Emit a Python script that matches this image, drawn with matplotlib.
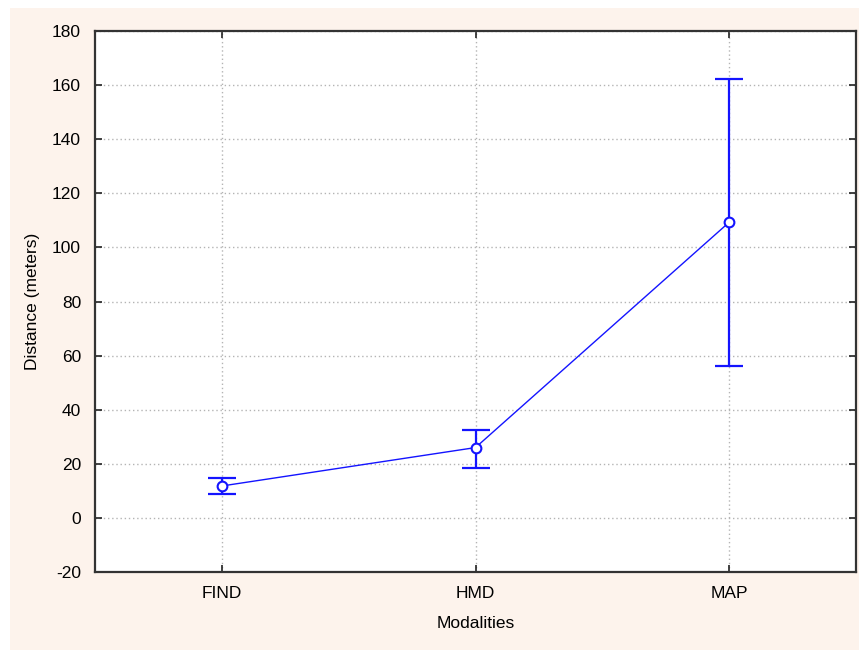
import matplotlib

matplotlib.use("Agg")
import matplotlib.pyplot as plt
from matplotlib.patches import Rectangle

plt.rcParams["font.family"] = ["Liberation Sans", "DejaVu Sans"]
plt.rcParams["axes.unicode_minus"] = False

# 各組平均與誤差範圍
modalities = ["FIND", "HMD", "MAP"]
mean_dist = [11.8, 26.0, 109.3]
lower_dist = [8.8, 18.4, 56.2]
upper_dist = [14.6, 32.4, 162.4]
y_ticks = [-20, 0, 20, 40, 60, 80, 100, 120, 140, 160, 180]

BLUE = "#1414ff"
PEACH = "#fdf3ec"

fig = plt.figure(figsize=(8.59, 6.5), dpi=100, facecolor="white")
# 背景的淡橘色底
fig.patches.append(Rectangle((10 / 859, 0), 1 - 10 / 859, 1 - 8 / 650,
                             transform=fig.transFigure, facecolor=PEACH,
                             edgecolor="none", zorder=-10))

ax = fig.add_axes([95 / 859, 1 - 572 / 650, (856 - 95) / 859, (572 - 31) / 650])
ax.set_facecolor("white")

x = list(range(len(modalities)))
yerr = [[m - lo for m, lo in zip(mean_dist, lower_dist)],
        [hi - m for m, hi in zip(mean_dist, upper_dist)]]

ax.plot(x, mean_dist, color=BLUE, linewidth=1.0, zorder=3)
ax.errorbar(x, mean_dist, yerr=yerr, fmt="none", ecolor=BLUE,
            elinewidth=1.6, capsize=10, capthick=1.6, zorder=3)
ax.plot(x, mean_dist, linestyle="none", marker="o", markersize=7,
        markerfacecolor="white", markeredgecolor=BLUE, markeredgewidth=1.5,
        zorder=4)

ax.set_xlim(-0.5, 2.5)
ax.set_ylim(-20, 180)
ax.set_xticks(x)
ax.set_xticklabels(modalities)
ax.set_yticks(y_ticks)

ax.grid(True, color="#b4b4b4", linestyle=(0, (1, 2)), linewidth=1.0)
ax.set_axisbelow(True)

ax.tick_params(direction="in", length=5, width=1.2, top=True, right=True,
               labelsize=12.5, color="#222222")
ax.tick_params(axis="x", pad=10)
ax.tick_params(axis="y", pad=10)
for sp in ax.spines.values():
    sp.set_linewidth(1.6)
    sp.set_color("#333333")

ax.set_xlabel("Modalities", fontsize=12.5, labelpad=11)
ax.set_ylabel("Distance (meters)", fontsize=12.5, labelpad=9)

fig.savefig("out.png", dpi=100, facecolor=fig.get_facecolor())
